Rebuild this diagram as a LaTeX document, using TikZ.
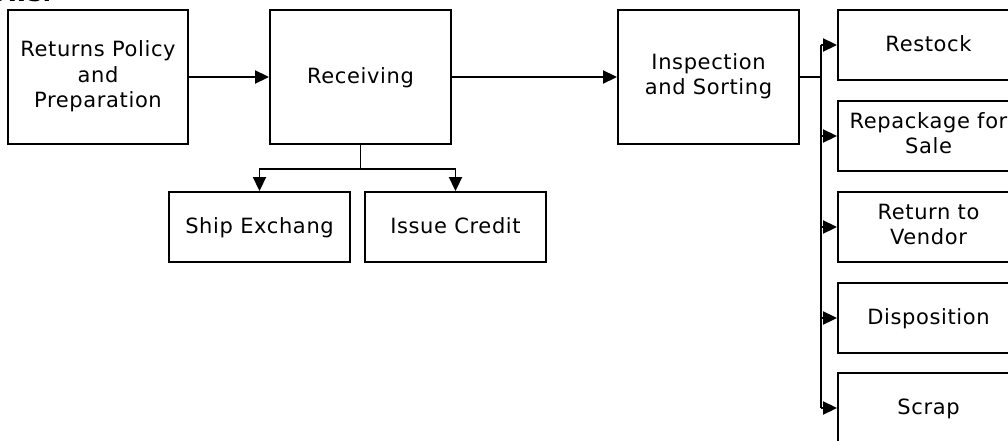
\documentclass[tikz,border=0pt]{standalone}
\usepackage{fontspec}
\setmainfont{DejaVu Sans}
\newfontfamily\boxfont[LetterSpace=3]{DejaVu Sans}
\usetikzlibrary{arrows.meta}
\newcommand\topstrut{\rule{0pt}{19.5pt}}
\newcommand\botstrut{\rule[-5.8pt]{0pt}{5.8pt}}
\begin{document}
\begin{tikzpicture}[x=1pt,y=-1pt,
  box/.style={draw, line width=1.9pt, rectangle, align=center, inner sep=2pt,
    minimum width=181pt, font=\boxfont\fontsize{21}{25.5}\selectfont,
    execute at begin node=\topstrut, execute at end node=\botstrut},
  tallbox/.style={box, minimum height=134pt},
  flatbox/.style={box, minimum height=70pt},
  link/.style={line width=1.9pt, -{Triangle[length=14pt,width=13pt]}},
  bus/.style={line width=2.8pt}]
\useasboundingbox (0,0) rectangle (1008,441);
\clip (0,0) rectangle (1008,441);
% tail of the sentence above the chart
\node[anchor=base east, inner sep=0pt, font=\fontsize{24}{28}\selectfont\bfseries] (lead) at (52,2) {follows:};
% main flow
\node[tallbox, minimum width=180pt] (policy) at (98,77) {Returns Policy\\and\\Preparation};
\node[tallbox] (recv) at (360.5,77) {Receiving};
\node[tallbox] (insp) at (708.5,77) {Inspection\\and Sorting};
% receiving outcomes
\node[flatbox] (ship) at (259.5,227) {Ship Exchang};
\node[flatbox] (credit) at (455.5,227) {Issue Credit};
% sorting outcomes
\node[flatbox] (restock) at (928.5,45) {Restock};
\node[flatbox] (repack) at (928.5,136) {Repackage for\\Sale};
\node[flatbox] (vendor) at (928.5,227) {Return to\\Vendor};
\node[flatbox] (dispo) at (928.5,318) {Disposition};
\node[flatbox] (scrap) at (928.5,408) {Scrap};
% connectors
\draw[link] (policy.east) -- (recv.west);
\draw[link] (recv.east) -- (insp.west);
\coordinate (split) at ([yshift=-24pt]recv.south);
\draw[link] (recv.south) -- (split) -| (ship.north);
\draw[link] (split) -| (credit.north);
\coordinate (hub) at (821,77);
\draw[bus] (insp.east) -- (hub);
\draw[bus] (821,45) -- (821,408);
\foreach \t in {restock,repack,vendor,dispo,scrap}
  \draw[link] (hub |- \t.west) -- (\t.west);
\end{tikzpicture}
\end{document}
